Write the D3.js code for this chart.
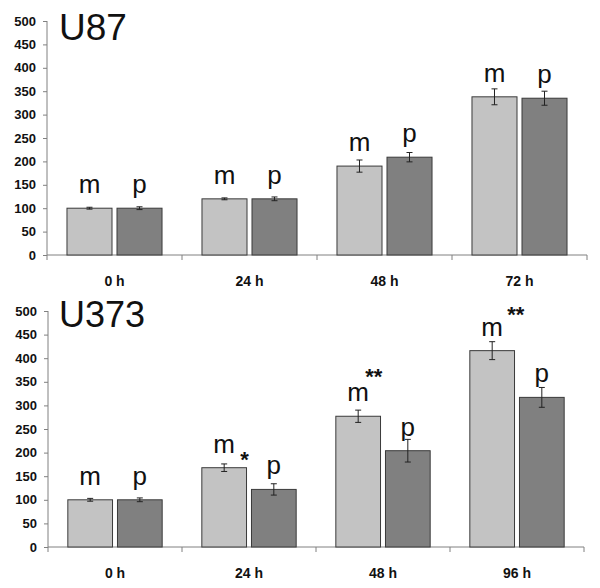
<!DOCTYPE html>
<html>
<head>
<meta charset="utf-8">
<script src="https://cdn.jsdelivr.net/npm/d3@7"></script>
<style>
  html, body { margin: 0; padding: 0; background: #fff; }
  svg { display: block; font-family: Arial, "Liberation Sans", sans-serif; }
</style>
</head>
<body>
<svg id="chart" width="600" height="588"></svg>
<script>
// ---- data ----
const yTicks = [0, 50, 100, 150, 200, 250, 300, 350, 400, 450, 500];
const seriesLabels = ["m", "p"];

const u87Categories = ["0 h", "24 h", "48 h", "72 h"];
const u87M = [100, 120, 190, 338];
const u87P = [100, 120, 209, 335];
const u87MErr = [2, 2, 13, 17];
const u87PErr = [3, 4, 10, 15];
const u87Sig = ["", "", "", ""];

const u373Categories = ["0 h", "24 h", "48 h", "96 h"];
const u373M = [100, 168, 277, 416];
const u373P = [100, 122, 204, 317];
const u373MErr = [3, 8, 13, 19];
const u373PErr = [4, 12, 24, 21];
const u373Sig = ["", "*", "**", "**"];

// ---- drawing ----
const svg = d3.select("#chart");
const colors = ["#c3c3c3", "#808080"];

function panel(opts) {
  const { title, cats, m, p, mErr, pErr, sig, left, right, top, bottom, titleY, titleSize, starOffsets } = opts;
  const g = svg.append("g");
  const x = d3.scaleBand().domain(cats).range([left, right]).paddingInner(0).paddingOuter(0);
  const y = d3.scaleLinear().domain([0, 500]).range([bottom, top]);
  const bw = x.bandwidth();
  const pad = bw * 0.148, gap = bw * 0.037;
  const barW = (bw - 2 * pad - gap) / 2;

  // y axis
  const yAxis = d3.axisLeft(y).tickValues(yTicks).tickSize(4).tickPadding(7);
  const ya = g.append("g").attr("transform", `translate(${left},0)`).call(yAxis);
  ya.select(".domain").attr("stroke", "#808080").attr("d", `M0,${top}V${bottom + 5}`);
  ya.selectAll(".tick line").attr("stroke", "#808080");
  ya.selectAll(".tick text").attr("font-size", 13).attr("font-weight", "bold").attr("fill", "#111")
    .attr("font-family", "Arial, 'Liberation Sans', sans-serif");

  // x axis
  const xa = g.append("g").attr("transform", `translate(0,${bottom})`)
    .call(d3.axisBottom(x).tickSize(0).tickPadding(21));
  xa.select(".domain").attr("stroke", "#808080").attr("d", `M${left},0H${right}`);
  xa.selectAll(".tick text").attr("font-size", 14).attr("font-weight", "bold").attr("fill", "#111")
    .attr("font-family", "Arial, 'Liberation Sans', sans-serif");
  // category boundary ticks
  const bounds = cats.map(c => x(c)).concat([x(cats[cats.length - 1]) + bw]);
  xa.selectAll("line.bound").data(bounds.slice(1)).enter().append("line")
    .attr("class", "bound").attr("x1", d => d).attr("x2", d => d)
    .attr("y1", 0).attr("y2", 5).attr("stroke", "#808080");

  const rows = [];
  cats.forEach((c, i) => {
    rows.push({ c, i, s: 0, v: m[i], e: mErr[i], x: x(c) + pad });
    rows.push({ c, i, s: 1, v: p[i], e: pErr[i], x: x(c) + pad + barW + gap });
  });

  g.selectAll("rect.bar").data(rows).enter().append("rect")
    .attr("class", "bar")
    .attr("x", d => d.x).attr("width", barW)
    .attr("y", d => y(d.v)).attr("height", d => y(0) - y(d.v))
    .attr("fill", d => colors[d.s]).attr("stroke", "#3a3a3a").attr("stroke-width", 1);

  // error bars
  const eg = g.selectAll("g.err").data(rows).enter().append("g").attr("class", "err")
    .attr("stroke", "#222").attr("stroke-width", 1);
  eg.append("line").attr("x1", d => d.x + barW / 2).attr("x2", d => d.x + barW / 2)
    .attr("y1", d => y(d.v + d.e)).attr("y2", d => y(d.v - d.e));
  eg.append("line").attr("x1", d => d.x + barW / 2 - 3).attr("x2", d => d.x + barW / 2 + 3)
    .attr("y1", d => y(d.v + d.e)).attr("y2", d => y(d.v + d.e));
  eg.append("line").attr("x1", d => d.x + barW / 2 - 3).attr("x2", d => d.x + barW / 2 + 3)
    .attr("y1", d => y(d.v - d.e)).attr("y2", d => y(d.v - d.e));

  // m / p labels
  g.selectAll("text.lbl").data(rows).enter().append("text")
    .attr("class", "lbl")
    .attr("x", d => d.x + barW / 2).attr("y", d => y(d.v) - 15)
    .attr("text-anchor", "middle").attr("font-size", 26).attr("fill", "#111")
    .text(d => seriesLabels[d.s]);

  // significance stars
  const mRows = rows.filter(d => d.s === 0 && sig[d.i]);
  g.selectAll("text.sig").data(mRows).enter().append("text")
    .attr("class", "sig")
    .attr("x", d => d.x + barW / 2 + starOffsets[d.i][0])
    .attr("y", d => y(d.v) - 15 + starOffsets[d.i][1])
    .attr("font-size", 22).attr("font-weight", "bold").attr("fill", "#111")
    .text(d => sig[d.i]);

  g.append("text").attr("x", 59).attr("y", titleY)
    .attr("font-size", titleSize).attr("fill", "#111").text(title);
}

panel({ title: "U87", cats: u87Categories, m: u87M, p: u87P, mErr: u87MErr, pErr: u87PErr, sig: u87Sig,
  left: 47, right: 587, top: 21, bottom: 255, titleY: 40, titleSize: 37, starOffsets: [[0,0],[0,0],[0,0],[0,0]] });
panel({ title: "U373", cats: u373Categories, m: u373M, p: u373P, mErr: u373MErr, pErr: u373PErr, sig: u373Sig,
  left: 48, right: 584, top: 311, bottom: 547, titleY: 327, titleSize: 36, starOffsets: [[0,0],[16,14],[7,-17],[15,-14]] });
</script>
</body>
</html>
